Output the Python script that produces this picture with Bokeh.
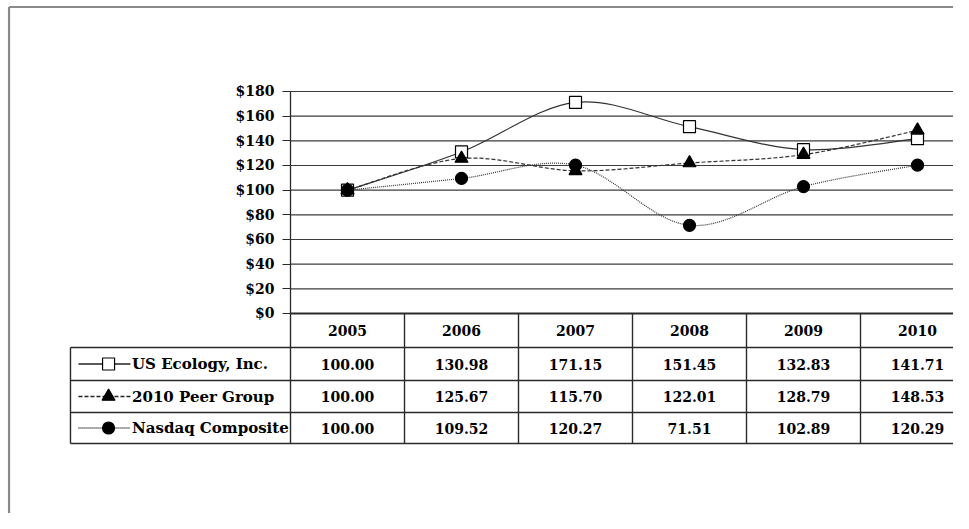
import numpy as np
from bokeh.plotting import figure
from bokeh.models import Range1d, PrintfTickFormatter, LinearAxis, FixedTicker
from bokeh.core.properties import value
from bokeh.embed import file_html
from bokeh.resources import INLINE

# ---- data ----
years = ["2005", "2006", "2007", "2008", "2009", "2010"]
series_names = ["US Ecology, Inc.", "2010 Peer Group", "Nasdaq Composite"]
us_ecology = [100.00, 130.98, 171.15, 151.45, 132.83, 141.71]
peer_group = [100.00, 125.67, 115.70, 122.01, 128.79, 148.53]
nasdaq = [100.00, 109.52, 120.27, 71.51, 102.89, 120.29]
y_ticks = [0, 20, 40, 60, 80, 100, 120, 140, 160, 180]

FONT_NAME = "DejaVu Serif"
FONT = value(FONT_NAME)
FS = "14px"
FS_LEGEND = "15px"
LINE_C = "#2a2a2a"
GRID_C = "#3c3c3c"
FRAME_C = "#8a8a8a"

xs = np.arange(len(years), dtype=float)

# layout constants (x in column units, y in dollar units)
X0, X1 = -3.0439, 5.3158
Y0, Y1 = -162.16, 253.78
FRAME_X, FRAME_Y = -2.969, 248.5
LABEL_LEFT = -2.43
ROW_EDGES = [0.0, -27.6, -54.3, -80.3, -105.4]


def smooth_segments(xv, yv):
    """Bezier control points for a smoothed (Catmull-Rom style) line through the data."""
    xv = np.asarray(xv, float)
    yv = np.asarray(yv, float)
    n = len(xv)
    xp = np.concatenate([[xv[0]], xv, [xv[-1]]])
    yp = np.concatenate([[yv[0]], yv, [yv[-1]]])
    cx0 = xv[:-1] + (xp[2:n + 1] - xp[0:n - 1]) / 6.0
    cy0 = yv[:-1] + (yp[2:n + 1] - yp[0:n - 1]) / 6.0
    cx1 = xv[1:] - (xp[3:n + 2] - xp[1:n]) / 6.0
    cy1 = yv[1:] - (yp[3:n + 2] - yp[1:n]) / 6.0
    return dict(x0=xv[:-1], y0=yv[:-1], x1=xv[1:], y1=yv[1:],
                cx0=cx0, cy0=cy0, cx1=cx1, cy1=cy1)


p = figure(width=953, height=513,
           x_range=Range1d(X0, X1), y_range=Range1d(Y0, Y1),
           x_axis_location=None, y_axis_location=None,
           output_backend="svg", toolbar_location=None,
           min_border=0, outline_line_color=None,
           background_fill_color="white", border_fill_color="white")
p.grid.visible = False

# outer grey frame (top and left edges)
p.segment(x0=[FRAME_X, FRAME_X], y0=[FRAME_Y, FRAME_Y], x1=[FRAME_X, X1 + 1], y1=[Y0 - 10, FRAME_Y],
          line_color=FRAME_C, line_width=2.2)

# horizontal grid lines of the chart
right_end = X1 + 1
p.segment(x0=[-0.5] * len(y_ticks), x1=[right_end] * len(y_ticks), y0=y_ticks, y1=y_ticks,
          line_color=GRID_C, line_width=1.2)
p.segment(x0=[-0.5], x1=[right_end], y0=[0], y1=[0], line_color=LINE_C, line_width=2.2)

# y axis pinned at the chart's left edge
yax = LinearAxis(fixed_location=-0.5, ticker=FixedTicker(ticks=y_ticks),
                 formatter=PrintfTickFormatter(format="$%d"), bounds=(0, 180))
yax.major_label_text_font = FONT_NAME
yax.major_label_text_font_style = "bold"
yax.major_label_text_font_size = FS
yax.major_label_text_color = "black"
yax.major_label_standoff = 8
yax.minor_tick_line_color = None
yax.major_tick_in = 0
yax.major_tick_out = 8
yax.major_tick_line_color = LINE_C
yax.axis_line_color = LINE_C
yax.axis_line_width = 1.3
p.add_layout(yax, "left")

styles = [
    dict(line_dash="solid", marker="square", size=12, fill="white"),
    dict(line_dash="4 2", marker="triangle", size=13, fill="black"),
    dict(line_dash="1 1", marker="circle", size=12, fill="black"),
]
all_series = [us_ecology, peer_group, nasdaq]
for vals, st in zip(all_series, styles):
    seg = smooth_segments(xs, vals)
    p.bezier(line_color="#333333", line_width=1.2, line_dash=st["line_dash"], **seg)
for vals, st in zip(all_series, styles):
    p.scatter(xs, vals, marker=st["marker"], size=st["size"],
              fill_color=st["fill"], line_color="black", line_width=1.2)

# ---- data table ----
n_edges = len(ROW_EDGES)
p.segment(x0=[LABEL_LEFT] * (n_edges - 1), x1=[right_end] * (n_edges - 1),
          y0=ROW_EDGES[1:], y1=ROW_EDGES[1:], line_color=LINE_C, line_width=1.4)
col_edges = [i - 0.5 for i in range(len(years) + 1)]
p.segment(x0=col_edges, x1=col_edges, y0=[0] * len(col_edges), y1=[ROW_EDGES[-1]] * len(col_edges),
          line_color=LINE_C, line_width=1.4)
p.segment(x0=[LABEL_LEFT], x1=[LABEL_LEFT], y0=[ROW_EDGES[1]], y1=[ROW_EDGES[-1]],
          line_color=LINE_C, line_width=1.4)

row_mid = [(ROW_EDGES[i] + ROW_EDGES[i + 1]) / 2 for i in range(n_edges - 1)]
p.text(x=xs, y=[row_mid[0]] * len(years), text=years, text_font=FONT, text_font_style="bold",
       text_font_size=FS, text_align="center", text_baseline="middle", text_color="black")

for r, (name, vals, st) in enumerate(zip(series_names, all_series, styles)):
    yc = row_mid[r + 1]
    p.text(x=xs, y=[yc] * len(years), text=[f"{v:.2f}" for v in vals],
           text_font=FONT, text_font_style="bold", text_font_size=FS,
           text_align="center", text_baseline="middle", text_color="black")
    p.segment(x0=[-2.36], x1=[-1.904], y0=[yc], y1=[yc], line_color="#222222",
              line_width=1.3, line_dash=st["line_dash"])
    p.scatter([-2.096], [yc], marker=st["marker"], size=st["size"],
              fill_color=st["fill"], line_color="black", line_width=1.2)
    p.text(x=[-1.89], y=[yc], text=[name], text_font=FONT, text_font_style="bold",
           text_font_size=FS_LEGEND, text_align="left", text_baseline="middle", text_color="black")

open("out.html", "w").write(file_html(p, INLINE))
